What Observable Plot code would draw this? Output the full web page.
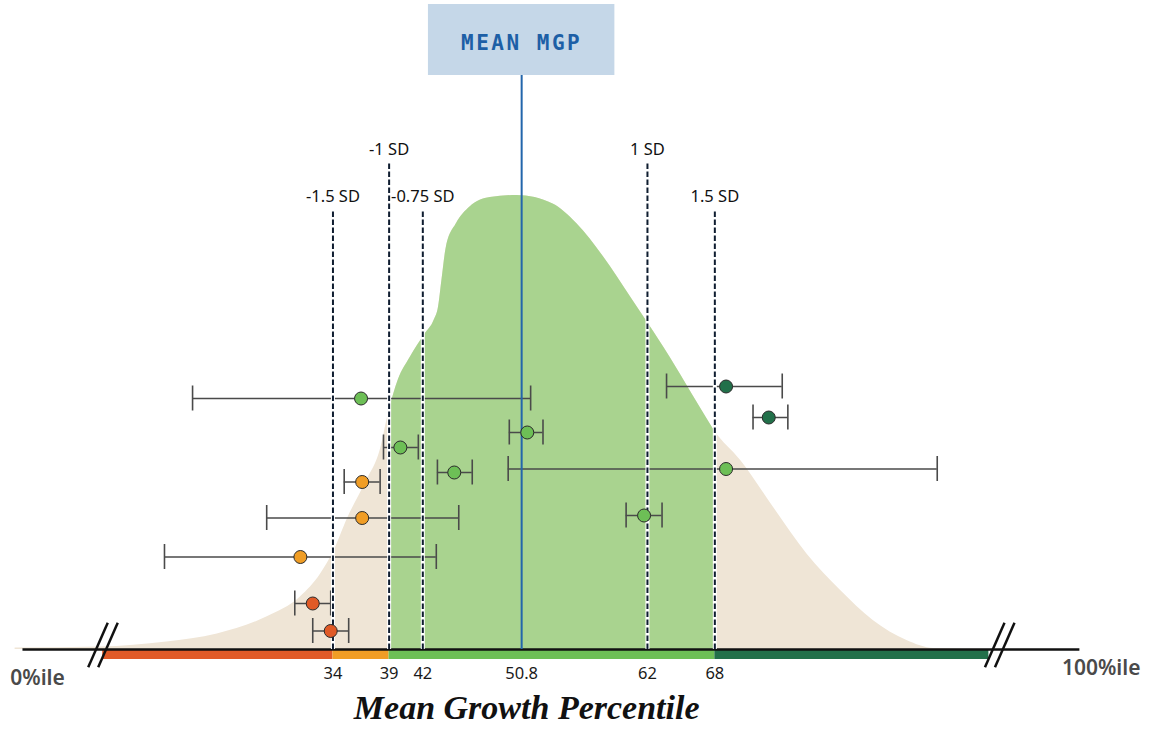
<!DOCTYPE html>
<html>
<head>
<meta charset="utf-8">
<script src="https://cdn.jsdelivr.net/npm/d3@7"></script>
<script src="https://cdn.jsdelivr.net/npm/@observablehq/plot@0.6"></script>
<style>
  body { margin: 0; background: #fff; }
  #chart svg { display: block; }
</style>
</head>
<body>
<div id="chart"></div>
<script>
// ---------- data ----------
const meanMGP = 50.8;

const tickValues = [34, 39, 42, 50.8, 62, 68];
const tickLabels = ["34", "39", "42", "50.8", "62", "68"];

const sdLabels = ["-1.5 SD", "-1 SD", "-0.75 SD", "1 SD", "1.5 SD"];
const sdValues = [34, 39, 42, 62, 68];
const sdTier   = ["low", "high", "low", "high", "low"];

const bandFrom  = [13.5, 34, 39, 68];
const bandTo    = [34, 39, 68, 92.4];
const bandLevel = ["red", "orange", "green", "dark"];

const breakValues = [13.53, 93.37];
const axisStart = 6.4, axisEnd = 100.5;
const startLabel = "0%ile", startValue = 7.7;
const endLabel = "100%ile", endValue = 102.4;

// distribution curve (percentile, relative density)
const densityX = [5.7, 13.3, 19.2, 23.7, 28.1, 31.1, 32.9, 34.1, 35.3, 37.0, 38.2, 39.0, 39.8, 40.9, 42.2, 43.0, 43.4, 43.7, 44.1, 45.0, 46.2, 48.0, 50.4, 53.6, 55.7, 58.1, 60.5, 62.1, 64.0, 66.0, 68.0, 70.3, 73.2, 76.2, 79.2, 82.1, 85.1, 87.5, 92.5];
const densityY = [0.3, 0.5, 1.5, 3.1, 6.5, 10.5, 15.1, 19.8, 26.2, 33.8, 39.8, 47.8, 53.8, 58.5, 63.1, 65.8, 68.5, 73.8, 80.5, 85.2, 88.5, 90.4, 90.8, 89.1, 85.2, 78.5, 70.5, 65.1, 58.5, 51.0, 43.6, 37.8, 28.5, 19.1, 11.8, 5.8, 1.8, 0.2, 0];

// schools: mean growth percentile with confidence interval
const schoolMGP   = [36.5, 69.0, 72.8, 51.3, 40.0, 44.8, 69.0, 36.6, 36.6, 61.7, 31.1, 32.2, 33.8];
const schoolLow   = [21.5, 63.7, 71.4, 49.7, 38.5, 43.3, 49.6, 35.0, 28.1, 60.1, 19.0, 30.6, 32.2];
const schoolHigh  = [51.6, 74.0, 74.5, 52.7, 41.6, 46.4, 87.8, 38.2, 45.2, 63.3, 43.2, 33.8, 35.4];
const schoolRow   = [50.2, 52.6, 46.4, 43.4, 40.4, 35.4, 36.1, 33.5, 26.3, 26.8, 18.5, 9.2, 3.7];
const schoolLevel = ["green", "dark", "dark", "green", "green", "green", "green", "orange", "orange", "green", "orange", "red", "red"];

// ---------- styles ----------
const levelColor = { red: "#e05a27", orange: "#f09d25", green: "#6dbf56", dark: "#22704a" };
const tierTop = { high: 97.2, low: 87.8 };
const sansFont = "'Noto Sans', 'Open Sans', sans-serif";

// ---------- derived tables ----------
const density = densityX.map((v, i) => ({ v, d: densityY[i] }));
const densityMid = density.filter(p => p.v >= 39 && p.v <= 68);
const bands = bandFrom.map((f, i) => ({ from: f, to: bandTo[i], level: bandLevel[i] }));
const sd = sdValues.map((v, i) => ({ v, label: sdLabels[i], top: tierTop[sdTier[i]] }));
const ticks = tickValues.map((v, i) => ({ v, label: tickLabels[i] }));
const schools = schoolMGP.map((m, i) => ({
  mgp: m, lo: schoolLow[i], hi: schoolHigh[i], row: schoolRow[i], level: schoolLevel[i]
}));
const slashes = [];
breakValues.forEach(b => {
  slashes.push({ x1: b - 1.32, x2: b + 0.42 });
  slashes.push({ x1: b - 0.43, x2: b + 1.31 });
});

const chart = Plot.plot({
  width: 1158,
  height: 731,
  marginLeft: 0, marginRight: 0, marginTop: 0, marginBottom: 82,
  x: { domain: [4.4, 107.5], axis: null },
  y: { domain: [0, 129.8], axis: null },
  style: { fontFamily: sansFont, background: "white" },
  marks: [
    Plot.areaY(density, { x: "v", y: "d", fill: "#efe5d6", curve: "monotone-x" }),
    Plot.areaY(densityMid, { x: "v", y: "d", fill: "#a9d38f", curve: "monotone-x" }),
    Plot.rect(bands, { x1: "from", x2: "to", y1: 0, y2: -2, fill: d => levelColor[d.level] }),
    Plot.ruleY([0], { x1: axisStart, x2: axisEnd, stroke: "#111", strokeWidth: 2.5 }),
    Plot.link(slashes, { x1: "x1", x2: "x2", y1: -3.54, y2: 5.34, stroke: "#111", strokeWidth: 2.5 }),
    // error bars
    Plot.ruleY(schools, { y: "row", x1: "lo", x2: "hi", stroke: "#4a4a4a", strokeWidth: 1.6 }),
    Plot.ruleX(schools, { x: "lo", y1: d => d.row - 2.5, y2: d => d.row + 2.5, stroke: "#4a4a4a", strokeWidth: 1.6 }),
    Plot.ruleX(schools, { x: "hi", y1: d => d.row - 2.5, y2: d => d.row + 2.5, stroke: "#4a4a4a", strokeWidth: 1.6 }),
    // SD lines
    Plot.ruleX(sd, { x: "v", y1: 0, y2: "top", stroke: "white", strokeWidth: 4 }),
    Plot.ruleX(sd, { x: "v", y1: 0, y2: "top", stroke: "#0f1d30", strokeWidth: 2, strokeDasharray: "5.5,2.5" }),
    Plot.text(sd, { x: "v", y: "top", dy: -14, text: "label", fontSize: 16.5, fill: "#111" }),
    // mean line + box
    Plot.ruleX([meanMGP], { y1: 0, y2: 114.8, stroke: "#2366ab", strokeWidth: 2 }),
    Plot.rect([meanMGP], { x1: d => d - 8.3, x2: d => d + 8.3, y1: 114.8, y2: 129, fill: "#c5d7e8" }),
    Plot.text(["MEAN MGP"], { x: meanMGP, y: 121.2, text: d => d, fontFamily: "'DejaVu Sans Mono', monospace",
      fontWeight: "bold", fontSize: 21, fill: "#1d5fa6", dx: 0 }),
    // points
    Plot.dot(schools, { x: "mgp", y: "row", r: 6.5, fill: d => levelColor[d.level], stroke: "#2a2a2a", strokeWidth: 1 }),
    // tick labels
    Plot.text(ticks, { x: "v", y: 0, dy: 24, text: "label", fontSize: 16.5, fill: "#1a1a1a" }),
    Plot.text([startLabel], { x: startValue, y: 0, dy: 29, text: d => d, fontSize: 21, fontWeight: 600, fill: "#4a4a4a" }),
    Plot.text([endLabel], { x: endValue, y: 0, dy: 19, text: d => d, fontSize: 21, fontWeight: 600, fill: "#4a4a4a" }),
    Plot.text(["Mean Growth Percentile"], { x: meanMGP, y: 0, dy: 59, dx: 5, text: d => d,
      fontFamily: "'Liberation Serif', serif", fontStyle: "italic", fontWeight: "bold", fontSize: 34, fill: "#111" })
  ]
});

d3.select(chart).selectAll("text").filter(function () { return this.textContent === "MEAN MGP"; })
  .attr("letter-spacing", "2.5px");

document.getElementById("chart").appendChild(chart);
</script>
</body>
</html>
